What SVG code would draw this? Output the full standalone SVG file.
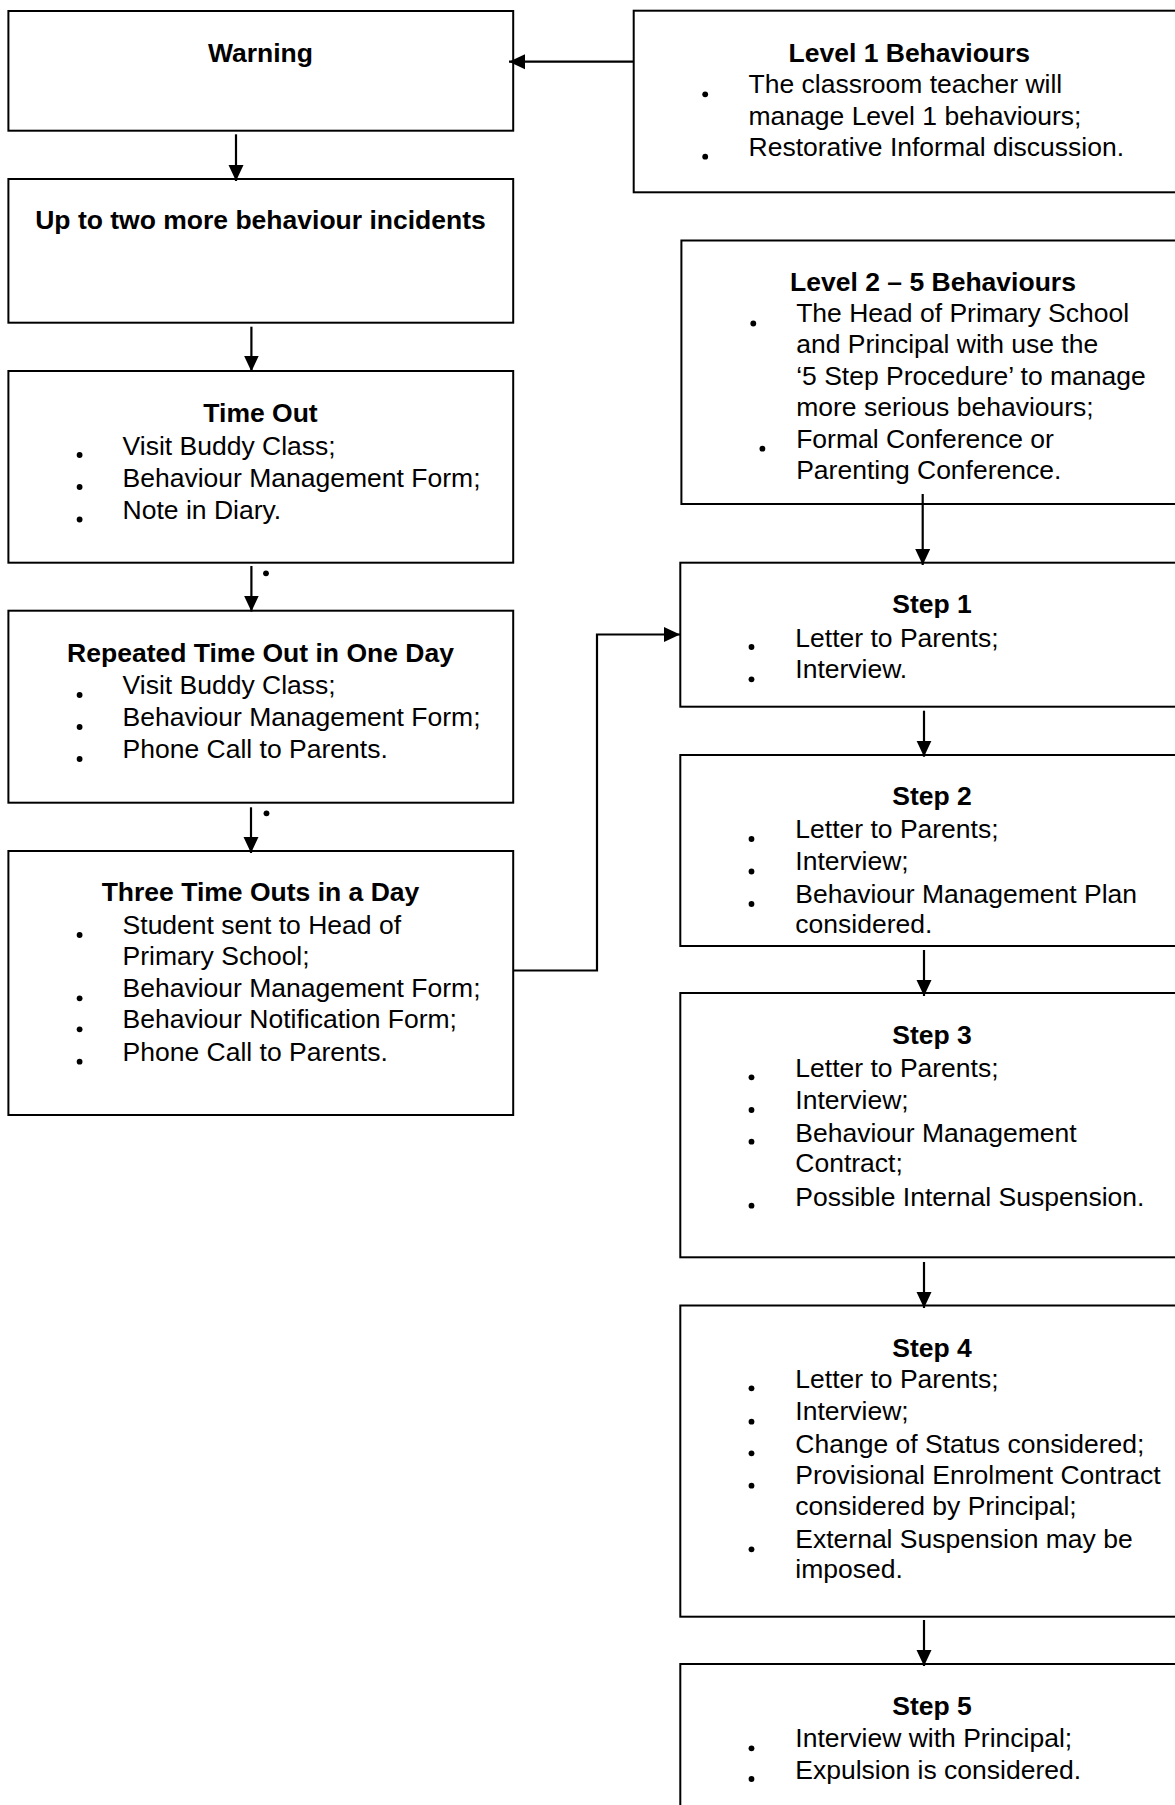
<svg xmlns="http://www.w3.org/2000/svg" width="1175" height="1805" viewBox="0 0 1175 1805">
<style>
.box{fill:#fff;stroke:#000;stroke-width:2}
.t{font-family:"Liberation Sans",Arial,sans-serif;font-size:26.5px;fill:#000}
.h{font-weight:bold;text-anchor:middle}
.c{fill:none;stroke:#000;stroke-width:2.2}
.b{fill:#000}
</style>
<defs>
<marker id="ah" markerUnits="userSpaceOnUse" markerWidth="17" markerHeight="16" refX="16" refY="7.5" orient="auto" viewBox="0 0 17 15">
<path d="M0,0 L16,7.5 L0,15 z" fill="#000"/>
</marker>
</defs>
<rect width="1175" height="1805" fill="#fff"/>

<g id="warning">
<rect class="box" x="8.4" y="11" width="504.8" height="119.7"/>
<text class="t h" x="260.5" y="61.7">Warning</text>
</g>

<g id="up-to-two">
<rect class="box" x="8.4" y="179" width="504.8" height="143.7"/>
<text class="t h" x="260.5" y="229.3">Up to two more behaviour incidents</text>
</g>

<g id="time-out">
<rect class="box" x="8.4" y="371" width="504.8" height="191.7"/>
<text class="t h" x="260.5" y="421.7">Time Out</text>
<circle class="b" cx="79.6" cy="455" r="2.9"/>
<circle class="b" cx="79.6" cy="487" r="2.9"/>
<circle class="b" cx="79.6" cy="519.5" r="2.9"/>
<text class="t" x="122.6" y="455">Visit Buddy Class;</text>
<text class="t" x="122.6" y="486.7">Behaviour Management Form;</text>
<text class="t" x="122.6" y="519">Note in Diary.</text>
</g>

<g id="repeated">
<rect class="box" x="8.4" y="610.7" width="504.8" height="192"/>
<text class="t h" x="260.5" y="661.7">Repeated Time Out in One Day</text>
<circle class="b" cx="79.6" cy="695" r="2.9"/>
<circle class="b" cx="79.6" cy="727" r="2.9"/>
<circle class="b" cx="79.6" cy="759" r="2.9"/>
<text class="t" x="122.6" y="694">Visit Buddy Class;</text>
<text class="t" x="122.6" y="726.2">Behaviour Management Form;</text>
<text class="t" x="122.6" y="758.3">Phone Call to Parents.</text>
</g>

<g id="three-time-outs">
<rect class="box" x="8.4" y="851" width="504.8" height="264"/>
<text class="t h" x="260.5" y="900.7">Three Time Outs in a Day</text>
<circle class="b" cx="79.6" cy="935" r="2.9"/>
<circle class="b" cx="79.6" cy="998.3" r="2.9"/>
<circle class="b" cx="79.6" cy="1029.3" r="2.9"/>
<circle class="b" cx="79.6" cy="1061.7" r="2.9"/>
<text class="t" x="122.6" y="934">Student sent to Head of</text>
<text class="t" x="122.6" y="965">Primary School;</text>
<text class="t" x="122.6" y="996.7">Behaviour Management Form;</text>
<text class="t" x="122.6" y="1028.3">Behaviour Notification Form;</text>
<text class="t" x="122.6" y="1060.7">Phone Call to Parents.</text>
</g>

<g id="level-1">
<rect class="box" x="633.7" y="10.7" width="560" height="181.6"/>
<text class="t h" x="909.3" y="61.7">Level 1 Behaviours</text>
<circle class="b" cx="705.2" cy="94.3" r="2.9"/>
<circle class="b" cx="705.2" cy="156.7" r="2.9"/>
<text class="t" x="748.5" y="93.3">The classroom teacher will</text>
<text class="t" x="748.5" y="124.5">manage Level 1 behaviours;</text>
<text class="t" x="748.5" y="156">Restorative Informal discussion.</text>
</g>

<g id="level-2-5">
<rect class="box" x="681.4" y="240.5" width="520" height="263.5"/>
<text class="t h" x="933" y="290.7">Level 2 – 5 Behaviours</text>
<circle class="b" cx="753.3" cy="323.5" r="2.9"/>
<circle class="b" cx="762.4" cy="448.7" r="2.9"/>
<text class="t" x="796.2" y="321.7">The Head of Primary School</text>
<text class="t" x="796.2" y="353.3">and Principal with use the</text>
<text class="t" x="796.2" y="385">‘5 Step Procedure’ to manage</text>
<text class="t" x="796.2" y="416.3">more serious behaviours;</text>
<text class="t" x="796.2" y="447.7">Formal Conference or</text>
<text class="t" x="796.2" y="478.7">Parenting Conference.</text>
</g>

<g id="step-1">
<rect class="box" x="680.3" y="562.7" width="520" height="144"/>
<text class="t h" x="932" y="613.3">Step 1</text>
<circle class="b" cx="751.5" cy="647" r="2.9"/>
<circle class="b" cx="751.5" cy="679.3" r="2.9"/>
<text class="t" x="795.3" y="647">Letter to Parents;</text>
<text class="t" x="795.3" y="678.3">Interview.</text>
</g>

<g id="step-2">
<rect class="box" x="680.3" y="755" width="520" height="191"/>
<text class="t h" x="932" y="805">Step 2</text>
<circle class="b" cx="751.5" cy="839" r="2.9"/>
<circle class="b" cx="751.5" cy="871.5" r="2.9"/>
<circle class="b" cx="751.5" cy="904" r="2.9"/>
<text class="t" x="795.3" y="838.3">Letter to Parents;</text>
<text class="t" x="795.3" y="870">Interview;</text>
<text class="t" x="795.3" y="903">Behaviour Management Plan</text>
<text class="t" x="795.3" y="933.3">considered.</text>
</g>

<g id="step-3">
<rect class="box" x="680.3" y="993" width="520" height="264.3"/>
<text class="t h" x="932" y="1044">Step 3</text>
<circle class="b" cx="751.5" cy="1077.3" r="2.9"/>
<circle class="b" cx="751.5" cy="1110" r="2.9"/>
<circle class="b" cx="751.5" cy="1141.7" r="2.9"/>
<circle class="b" cx="751.5" cy="1205.7" r="2.9"/>
<text class="t" x="795.3" y="1077.3">Letter to Parents;</text>
<text class="t" x="795.3" y="1108.5">Interview;</text>
<text class="t" x="795.3" y="1141.5">Behaviour Management</text>
<text class="t" x="795.3" y="1171.7">Contract;</text>
<text class="t" x="795.3" y="1205.7">Possible Internal Suspension.</text>
</g>

<g id="step-4">
<rect class="box" x="680.3" y="1305.5" width="520" height="311.2"/>
<text class="t h" x="932" y="1356.7">Step 4</text>
<circle class="b" cx="751.5" cy="1388.3" r="2.9"/>
<circle class="b" cx="751.5" cy="1421.7" r="2.9"/>
<circle class="b" cx="751.5" cy="1453.3" r="2.9"/>
<circle class="b" cx="751.5" cy="1485.7" r="2.9"/>
<circle class="b" cx="751.5" cy="1549.3" r="2.9"/>
<text class="t" x="795.3" y="1388.3">Letter to Parents;</text>
<text class="t" x="795.3" y="1420">Interview;</text>
<text class="t" x="795.3" y="1453">Change of Status considered;</text>
<text class="t" x="795.3" y="1484.3">Provisional Enrolment Contract</text>
<text class="t" x="795.3" y="1515">considered by Principal;</text>
<text class="t" x="795.3" y="1548.3">External Suspension may be</text>
<text class="t" x="795.3" y="1578.3">imposed.</text>
</g>

<g id="step-5">
<rect class="box" x="680.3" y="1664" width="520" height="200"/>
<text class="t h" x="932" y="1715">Step 5</text>
<circle class="b" cx="751.5" cy="1748.3" r="2.9"/>
<circle class="b" cx="751.5" cy="1779" r="2.9"/>
<text class="t" x="795.3" y="1746.7">Interview with Principal;</text>
<text class="t" x="795.3" y="1779">Expulsion is considered.</text>
</g>

<g id="connectors">
<path class="c" d="M634,61.7 H509" marker-end="url(#ah)"/>
<path class="c" d="M236,134.3 V181" marker-end="url(#ah)"/>
<path class="c" d="M251.4,326.7 V371.5" marker-end="url(#ah)"/>
<path class="c" d="M251.4,566 V611.5" marker-end="url(#ah)"/>
<path class="c" d="M251,807.3 V853" marker-end="url(#ah)"/>
<path class="c" d="M513.2,970.5 H597 V634.5 H680" marker-end="url(#ah)"/>
<path class="c" d="M922.7,494 V565" marker-end="url(#ah)"/>
<path class="c" d="M924,710.7 V756.7" marker-end="url(#ah)"/>
<path class="c" d="M924,950 V996" marker-end="url(#ah)"/>
<path class="c" d="M924,1262 V1308" marker-end="url(#ah)"/>
<path class="c" d="M924,1620 V1666" marker-end="url(#ah)"/>
<circle class="b" cx="266" cy="573.3" r="2.9"/>
<circle class="b" cx="266.5" cy="813.3" r="2.9"/>
</g>
</svg>
